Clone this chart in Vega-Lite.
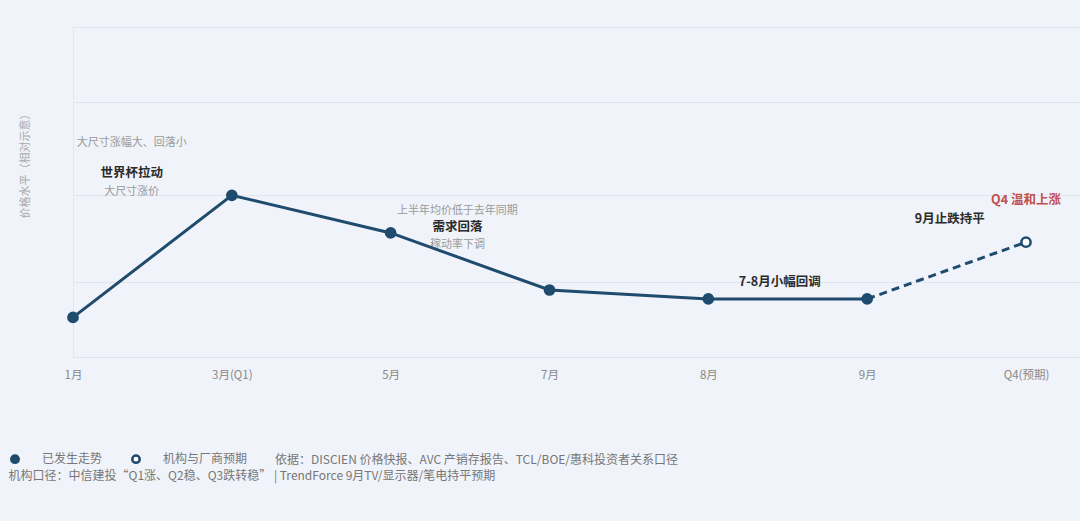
{
  "$schema": "https://vega.github.io/schema/vega-lite/v6.json",
  "width": 1007,
  "height": 330,
  "autosize": {"type": "none"},
  "padding": {"left": 73, "top": 27, "right": 0, "bottom": 164},
  "background": "#f0f3f9",
  "config": {"font": "Noto Sans CJK SC", "view": {"stroke": null}},
  "datasets": {
    "trend": [
      {"period": "1月", "idx": 0, "value": 12, "status": "已发生走势"},
      {"period": "3月(Q1)", "idx": 1, "value": 49, "status": "已发生走势"},
      {"period": "5月", "idx": 2, "value": 37.6, "status": "已发生走势"},
      {"period": "7月", "idx": 3, "value": 20.3, "status": "已发生走势"},
      {"period": "8月", "idx": 4, "value": 17.6, "status": "已发生走势"},
      {"period": "9月", "idx": 5, "value": 17.6, "status": "已发生走势"},
      {"period": "Q4(预期)", "idx": 6, "value": 34.8, "status": "机构与厂商预期"}
    ],
    "notes": [
      {"idx": 0.37, "value": 64.8, "text": "大尺寸涨幅大、回落小", "kind": "说明"},
      {"idx": 0.37, "value": 55.8, "text": "世界杯拉动", "kind": "要点"},
      {"idx": 0.37, "value": 50, "text": "大尺寸涨价", "kind": "说明"},
      {"idx": 2.42, "value": 44.2, "text": "上半年均价低于去年同期", "kind": "说明"},
      {"idx": 2.42, "value": 39.4, "text": "需求回落", "kind": "要点"},
      {"idx": 2.42, "value": 33.9, "text": "稼动率下调", "kind": "说明"},
      {"idx": 4.45, "value": 22.7, "text": "7-8月小幅回调", "kind": "要点"},
      {"idx": 5.52, "value": 41.8, "text": "9月止跌持平", "kind": "要点"},
      {"idx": 6, "value": 47.6, "text": "Q4 温和上涨", "kind": "预期"}
    ]
  },
  "layer": [
    {
      "data": {"name": "notes"},
      "transform": [{"filter": "datum.kind === '说明'"}],
      "mark": {"type": "text", "fontSize": 11, "color": "#9a9a9a", "align": "center", "baseline": "middle"},
      "encoding": {
        "x": {"field": "idx", "type": "quantitative", "scale": {"domain": [0, 6.34], "nice": false, "zero": false},
          "axis": {
            "values": [0, 1, 2, 3, 4, 5, 6],
            "labelExpr": "['1月','3月(Q1)','5月','7月','8月','9月','Q4(预期)'][datum.value]",
            "labelColor": "#888",
            "labelFontSize": 11.5,
            "labelPadding": 12,
            "labelBaseline": "top",
            "labelFlush": false,
            "labelOverlap": false,
            "ticks": false,
            "tickSize": 0,
            "domain": false,
            "grid": false,
            "title": "机构口径：中信建投“Q1涨、Q2稳、Q3跌转稳” | TrendForce 9月TV/显示器/笔电持平预期",
            "titleX": -65,
            "titleY": 118,
            "titleAlign": "left",
            "titleBaseline": "middle",
            "titleFontSize": 12,
            "titleFontWeight": "normal",
            "titleColor": "#777"
          }},
        "y": {"field": "value", "type": "quantitative", "scale": {"domain": [0, 100], "nice": false},
          "axis": {
            "values": [0, 22.7, 49.1, 77.3, 100],
            "labels": false,
            "ticks": false,
            "tickSize": 0,
            "domain": true,
            "domainColor": "#e2e6ee",
            "gridColor": "#e0e4ec",
            "title": "价格水平（相对示意）",
            "titleX": -48,
            "titleY": 136,
            "titleAlign": "center",
            "titleBaseline": "middle",
            "titleColor": "#aaa",
            "titleFontSize": 11,
            "titleFontWeight": "normal"
          }},
        "text": {"field": "text"}
      }
    },
    {
      "data": {"name": "trend"},
      "transform": [{"filter": "datum.status === '已发生走势'"}],
      "mark": {"type": "line", "color": "#1f4b6e", "strokeWidth": 3},
      "encoding": {
        "x": {"field": "idx", "type": "quantitative"},
        "y": {"field": "value", "type": "quantitative"}
      }
    },
    {
      "data": {"name": "trend"},
      "transform": [{"filter": "datum.idx >= 5"}],
      "mark": {"type": "line", "color": "#1f4b6e", "strokeWidth": 3, "strokeDash": [8, 5]},
      "encoding": {
        "x": {"field": "idx", "type": "quantitative"},
        "y": {"field": "value", "type": "quantitative"}
      }
    },
    {
      "data": {"name": "trend"},
      "mark": {"type": "point", "shape": "circle", "size": 85, "stroke": "#1f4b6e", "strokeWidth": 2.5, "opacity": 1, "fillOpacity": 1},
      "encoding": {
        "x": {"field": "idx", "type": "quantitative"},
        "y": {"field": "value", "type": "quantitative"},
        "fill": {"field": "status", "type": "nominal",
          "scale": {"domain": ["已发生走势", "机构与厂商预期"], "range": ["#1f4b6e", "#ffffff"]},
          "legend": {
            "orient": "none",
            "legendX": -64,
            "legendY": 426,
            "direction": "horizontal",
            "title": "依据：DISCIEN 价格快报、AVC 产销存报告、TCL/BOE/惠科投资者关系口径",
            "titleOrient": "right",
            "titlePadding": 28,
            "titleFontSize": 12,
            "titleFontWeight": "normal",
            "titleColor": "#777",
            "titleLimit": 800,
            "labelFontSize": 12,
            "labelColor": "#777",
            "labelOffset": 21,
            "labelLimit": 200,
            "columnPadding": 24,
            "symbolSize": 55,
            "symbolType": "circle",
            "symbolStrokeColor": "#1f4b6e",
            "symbolStrokeWidth": 2.5,
            "padding": 0
          }}
      }
    },
    {
      "data": {"name": "notes"},
      "transform": [{"filter": "datum.kind === '要点'"}],
      "mark": {"type": "text", "fontSize": 12.5, "fontWeight": "bold", "color": "#2b2b2b", "align": "center", "baseline": "middle"},
      "encoding": {
        "x": {"field": "idx", "type": "quantitative"},
        "y": {"field": "value", "type": "quantitative"},
        "text": {"field": "text"}
      }
    },
    {
      "data": {"name": "notes"},
      "transform": [{"filter": "datum.kind === '预期'"}],
      "mark": {"type": "text", "fontSize": 12.5, "fontWeight": "bold", "color": "#c0504d", "align": "center", "baseline": "middle"},
      "encoding": {
        "x": {"field": "idx", "type": "quantitative"},
        "y": {"field": "value", "type": "quantitative"},
        "text": {"field": "text"}
      }
    }
  ]
}
